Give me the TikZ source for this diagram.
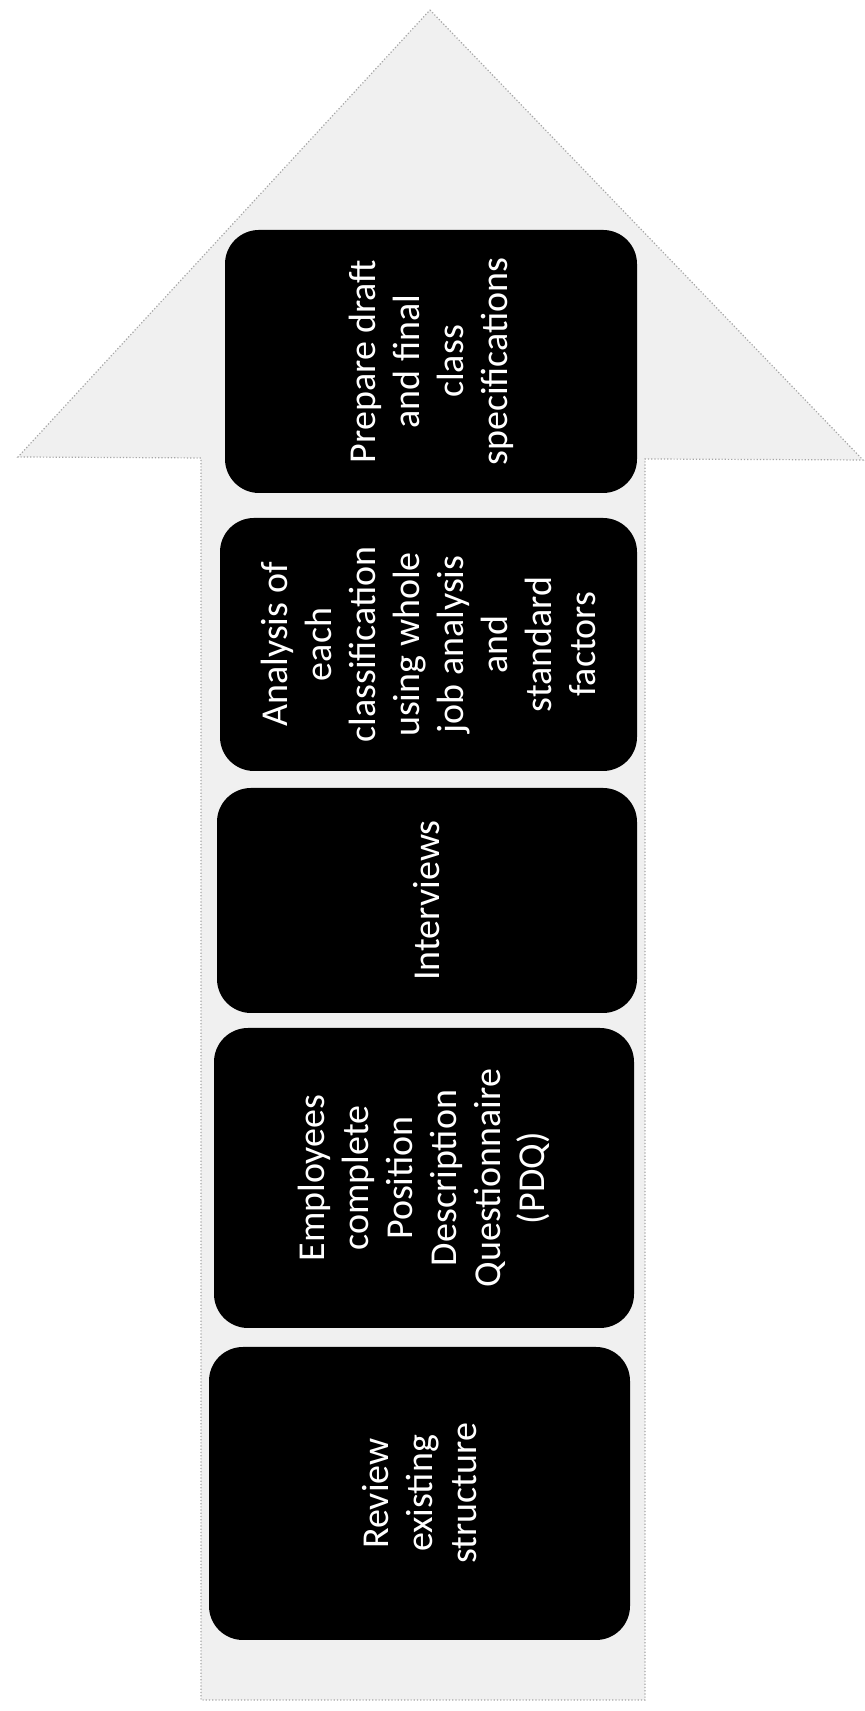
\documentclass[tikz,border=0pt]{standalone}
\usepackage{fontspec}
\usepackage{tikz}
\usetikzlibrary{calc,positioning}
\newfontfamily\stagefont{Carlito}

\begin{document}
\begin{tikzpicture}[
  x=0.5pt,y=0.5pt,
  backarrow/.style={fill=gray!12,draw=gray!70,densely dotted,line width=0.6pt},
  stage/.style={rectangle,rounded corners=17pt,fill=black,text=white,
    rotate=90,align=center,inner sep=0pt,
    font={\stagefont\fontsize{19}{22}\selectfont}}
]
  \useasboundingbox (0,0) rectangle (865,1711);

  % Big upward arrow behind the stages
  \coordinate (tip) at (430,1701);
  \coordinate (wingR) at (863,1251);
  \coordinate (wingL) at (18,1254);
  \coordinate (shaftRT) at (645,1252);
  \coordinate (shaftRB) at (645,11);
  \coordinate (shaftLB) at (201,11);
  \coordinate (shaftLT) at (201,1253);
  \draw[backarrow]
    (tip) -- (wingR) -- (shaftRT) -- (shaftRB) -- (shaftLB)
    -- (shaftLT) -- (wingL) -- cycle;

  % Stages, bottom to top
  \node[stage,minimum width=146.5pt,minimum height=210.5pt]
    (review) at (419.5,217.5) {Review\\existing\\structure};
  \node[stage,minimum width=150pt,minimum height=210pt]
    (pdq) at (424,533)
    {Employees\\complete\\Position\\Description\\Questionnaire\\(PDQ)};
  \node[stage,minimum width=112.5pt,minimum height=210pt]
    (interviews) at (427,810.5) {Interviews};
  \node[stage,minimum width=126.5pt,minimum height=208.5pt]
    (analysis) at (428.5,1066.5)
    {Analysis of\\each\\classification\\using whole\\job analysis\\and\\standard\\factors};
  \node[stage,minimum width=131.5pt,minimum height=206pt]
    (prepare) at (431,1349.5)
    {Prepare draft\\and final\\class\\specifications};
\end{tikzpicture}
\end{document}
